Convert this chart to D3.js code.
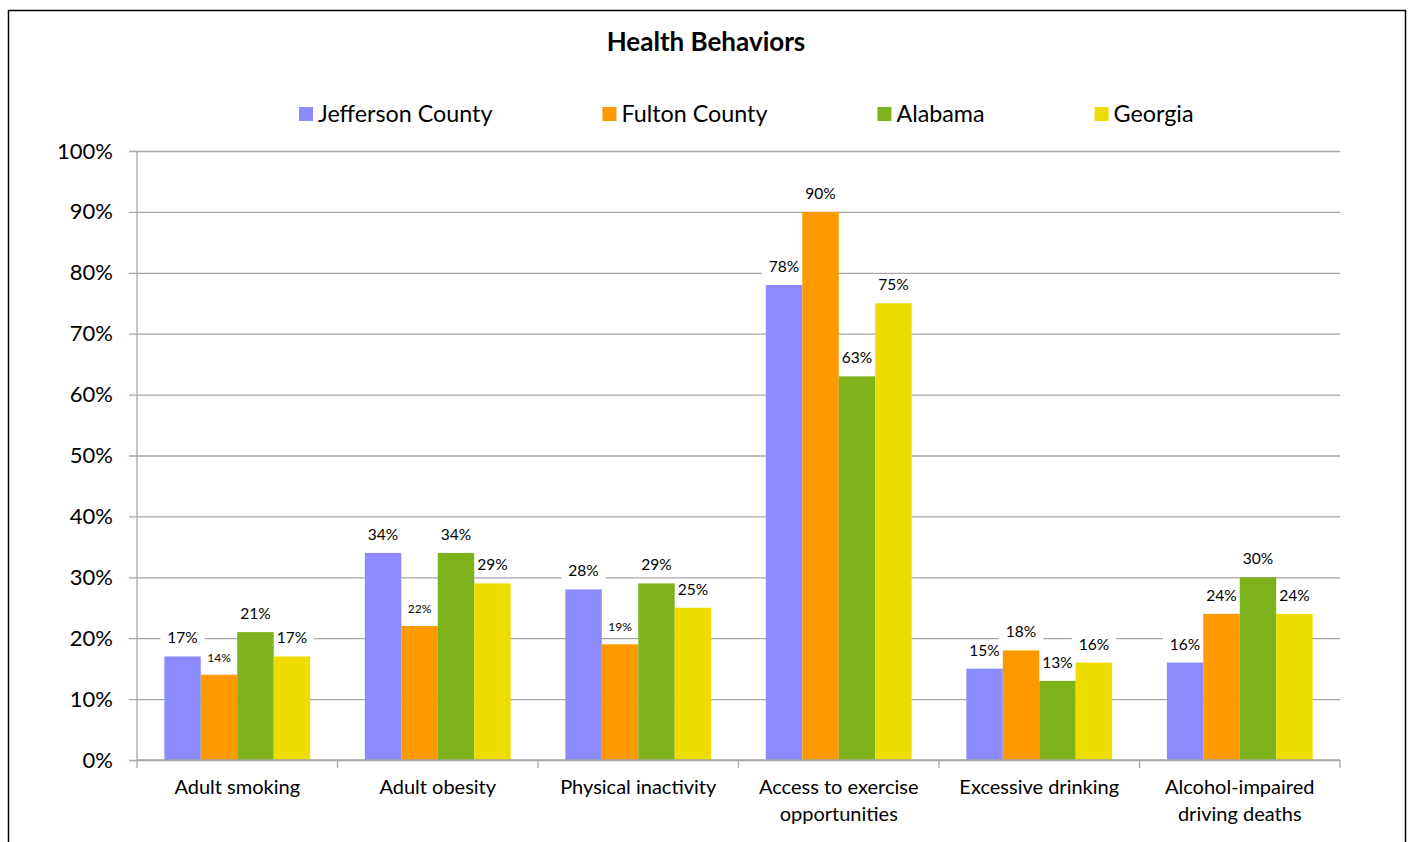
<!DOCTYPE html>
<html>
<head>
<meta charset="utf-8">
<script src="https://cdn.jsdelivr.net/npm/d3@7"></script>
<style>
  body { margin: 0; background: #fff; }
  svg { display: block; font-family: Lato, "Open Sans", sans-serif; }
</style>
</head>
<body>
<svg id="chart" width="1413" height="842"></svg>
<script>
// dimensions
const width = 1413;
const height = 842;
const margin = { top: 151, right: 73, bottom: 82, left: 137 };

// data
const categories = ["Adult smoking", "Adult obesity", "Physical inactivity",
  "Access to exercise opportunities", "Excessive drinking", "Alcohol-impaired driving deaths"];
const seriesNames = ["Jefferson County", "Fulton County", "Alabama", "Georgia"];
const jefferson = [0.17, 0.34, 0.28, 0.78, 0.15, 0.16];
const fulton    = [0.14, 0.22, 0.19, 0.90, 0.18, 0.24];
const alabama   = [0.21, 0.34, 0.29, 0.63, 0.13, 0.30];
const georgia   = [0.17, 0.29, 0.25, 0.75, 0.16, 0.24];
const yTicks = [0, 0.1, 0.2, 0.3, 0.4, 0.5, 0.6, 0.7, 0.8, 0.9, 1.0];

const colors = ["#8b8bff", "#ff9900", "#7db21d", "#eedc00"];
// labels drawn in a smaller font in the original (category index - series index)
const smallLabels = ["0-1", "1-1", "2-1"];

const seriesValues = [jefferson, fulton, alabama, georgia];

const svg = d3.select("#chart");

// cadre du graphique
svg.append("rect")
  .attr("x", 8.5).attr("y", 10.5)
  .attr("width", 1397).attr("height", 860)
  .attr("fill", "white")
  .attr("stroke", "#000").attr("stroke-width", 1.5);

// titre
svg.append("text")
  .attr("x", 706).attr("y", 51)
  .attr("text-anchor", "middle")
  .attr("font-weight", "bold")
  .attr("font-size", 26)
  .attr("fill", "#000")
  .text("Health Behaviors");

// scales
const x = d3.scaleBand()
  .domain(categories)
  .range([margin.left, width - margin.right]);

const xs = d3.scaleBand()
  .domain(seriesNames)
  .range([0, x.bandwidth()])
  .paddingOuter(0.75);

const y = d3.scaleLinear()
  .domain([0, 1])
  .range([height - margin.bottom, margin.top]);

const gridColor = "#a6a6a6";

// gridlines + y axis
const yAxis = d3.axisLeft(y)
  .tickValues(yTicks)
  .tickFormat(d3.format(".0%"))
  .tickSize(-(width - margin.right - margin.left))
  .tickPadding(24);

const gy = svg.append("g")
  .attr("transform", `translate(${margin.left},0)`)
  .call(yAxis);
gy.select(".domain").remove();
gy.selectAll(".tick line")
  .attr("x1", -8)
  .attr("stroke", gridColor)
  .attr("stroke-width", 1.3);
gy.selectAll(".tick text")
  .attr("font-size", 22)
  .attr("fill", "#000")
  .attr("font-family", "Lato, sans-serif");

// axe vertical
svg.append("line")
  .attr("x1", margin.left).attr("x2", margin.left)
  .attr("y1", y(1)).attr("y2", y(0))
  .attr("stroke", gridColor).attr("stroke-width", 1.3);

// données à plat
const data = [];
categories.forEach((c, i) => {
  seriesNames.forEach((s, j) => {
    data.push({ cat: c, ci: i, series: s, si: j, value: seriesValues[j][i] });
  });
});

const barX = d => x(d.cat) + xs(d.series);
const isSmall = d => smallLabels.includes(`${d.ci}-${d.si}`);

// fonds blancs des étiquettes (cachent la grille, sous les barres)
const labelBg = svg.append("g");
// barres
const barsG = svg.append("g");
// textes des étiquettes
const labelTxt = svg.append("g");

barsG.selectAll("rect")
  .data(data)
  .join("rect")
  .attr("x", barX)
  .attr("y", d => y(d.value))
  .attr("width", xs.bandwidth())
  .attr("height", d => y(0) - y(d.value))
  .attr("fill", d => colors[d.si]);

const texts = labelTxt.selectAll("text")
  .data(data)
  .join("text")
  .attr("x", d => barX(d) + xs.bandwidth() / 2)
  .attr("y", d => y(d.value) - 13)
  .attr("text-anchor", "middle")
  .attr("font-size", d => isSmall(d) ? 12 : 15.5)
  .attr("fill", "#000")
  .text(d => d3.format(".0%")(d.value));

texts.each(function(d) {
  const w = this.getComputedTextLength() + 14;
  labelBg.append("rect")
    .attr("x", barX(d) + xs.bandwidth() / 2 - w / 2)
    .attr("y", y(d.value) - 28)
    .attr("width", w)
    .attr("height", 21)
    .attr("fill", "white");
});

// x axis
const gx = svg.append("g")
  .attr("transform", `translate(0,${y(0)})`);
gx.append("line")
  .attr("x1", margin.left).attr("x2", width - margin.right)
  .attr("stroke", gridColor).attr("stroke-width", 1.3);
gx.selectAll("line.tick")
  .data(categories.concat(["end"]))
  .join("line")
  .attr("class", "tick")
  .attr("x1", (d, i) => i < categories.length ? x(d) : x(categories[i - 1]) + x.bandwidth())
  .attr("x2", (d, i) => i < categories.length ? x(d) : x(categories[i - 1]) + x.bandwidth())
  .attr("y1", 0).attr("y2", 8)
  .attr("stroke", gridColor).attr("stroke-width", 1.3);

// category labels (wrapped)
const catLabels = gx.selectAll("text.cat")
  .data(categories)
  .join("text")
  .attr("class", "cat")
  .attr("x", d => x(d) + x.bandwidth() / 2)
  .attr("y", 34)
  .attr("text-anchor", "middle")
  .attr("font-size", 20)
  .attr("fill", "#000");

catLabels.each(function(d) {
  const t = d3.select(this);
  const words = d.split(" ");
  let line = [];
  let tspan = t.append("tspan").attr("x", t.attr("x")).attr("dy", 0);
  words.forEach(w => {
    line.push(w);
    tspan.text(line.join(" "));
    if (tspan.node().getComputedTextLength() > 190 && line.length > 1) {
      line.pop();
      tspan.text(line.join(" "));
      line = [w];
      tspan = t.append("tspan").attr("x", t.attr("x")).attr("dy", 27).text(w);
    }
  });
});

// legende
const legend = svg.append("g").attr("transform", "translate(299,114)");
let lx = 0;
seriesNames.forEach((s, i) => {
  const item = legend.append("g").attr("transform", `translate(${lx},0)`);
  item.append("rect")
    .attr("x", 0).attr("y", -7)
    .attr("width", 14).attr("height", 14)
    .attr("fill", colors[i]);
  const t = item.append("text")
    .attr("x", 19).attr("y", 8)
    .attr("font-size", 23.3)
    .attr("fill", "#000")
    .text(s);
  lx += 19 + t.node().getComputedTextLength() + 110;
});
</script>
</body>
</html>
